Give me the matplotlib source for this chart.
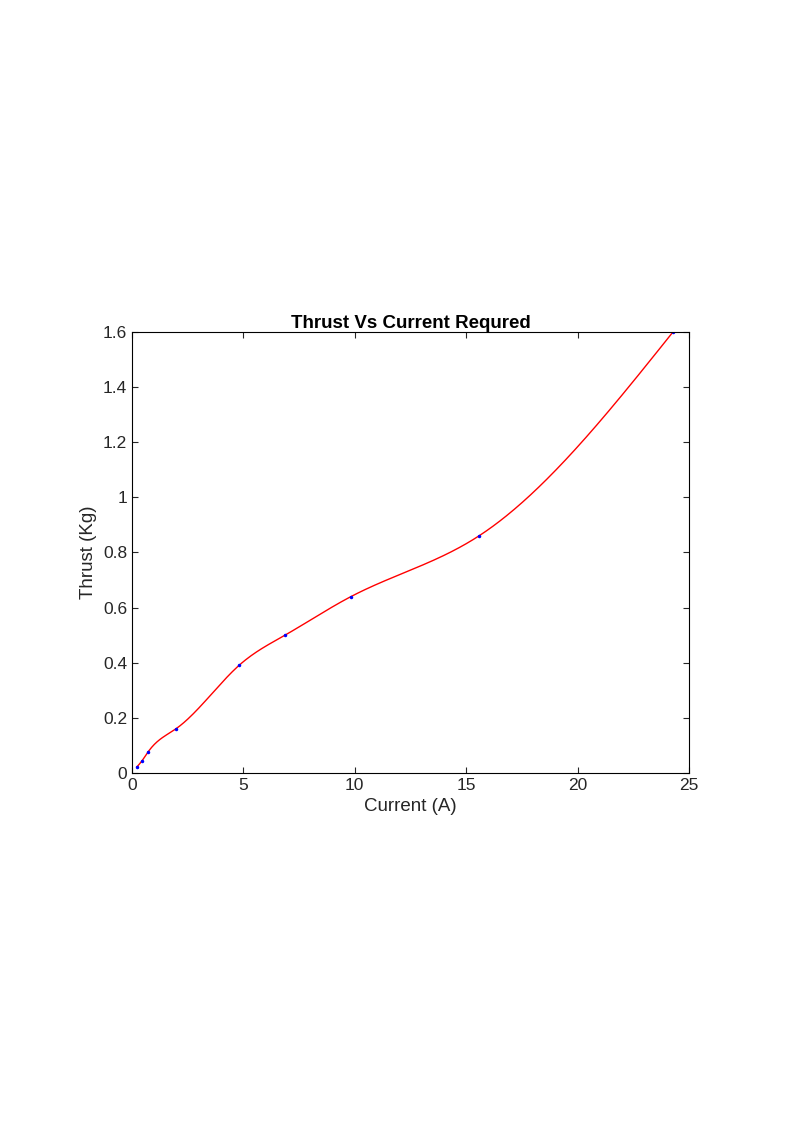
import numpy as np
import matplotlib
matplotlib.use('Agg')
import matplotlib.pyplot as plt

plt.rcParams['font.family'] = ['Liberation Sans', 'DejaVu Sans']

current = [0.22, 0.45, 0.72, 1.97, 4.8, 6.87, 9.83, 15.57, 24.28]
thrust = [0.022, 0.044, 0.076, 0.16, 0.39, 0.50, 0.64, 0.86, 1.60]


def natural_spline(x, y, xs):
    x = np.asarray(x, float); y = np.asarray(y, float)
    n = len(x)
    h = np.diff(x)
    A = np.zeros((n, n)); r = np.zeros(n)
    A[0, 0] = A[-1, -1] = 1
    for i in range(1, n - 1):
        A[i, i - 1] = h[i - 1]
        A[i, i] = 2 * (h[i - 1] + h[i])
        A[i, i + 1] = h[i]
        r[i] = 3 * ((y[i + 1] - y[i]) / h[i] - (y[i] - y[i - 1]) / h[i - 1])
    c = np.linalg.solve(A, r)
    b = (y[1:] - y[:-1]) / h - h * (2 * c[:-1] + c[1:]) / 3
    d = (c[1:] - c[:-1]) / (3 * h)
    idx = np.clip(np.searchsorted(x, xs) - 1, 0, n - 2)
    dx = xs - x[idx]
    return y[idx] + b[idx] * dx + c[idx] * dx**2 + d[idx] * dx**3


xs = np.linspace(current[0], current[-1], 400)
ys = natural_spline(current, thrust, xs)

fig = plt.figure(figsize=(7.94, 11.23), dpi=100)
ax = fig.add_axes([0.1662, 0.3117, 0.7016, 0.3927])
ax.plot(xs, ys, color='red', linewidth=1)
ax.plot(current, thrust, '.', color='blue', markersize=3)
ax.set_xlim(0, 25)
ax.set_ylim(0, 1.6)
ax.set_xticks([0, 5, 10, 15, 20, 25])
ax.set_yticks([0, 0.2, 0.4, 0.6, 0.8, 1, 1.2, 1.4, 1.6])
ax.set_yticklabels(['0', '0.2', '0.4', '0.6', '0.8', '1', '1.2', '1.4', '1.6'])
ax.tick_params(direction='in', top=True, right=True, labelsize=12.5, colors='#262626', length=4)
ax.set_xlabel('Current (A)', fontsize=13.5, color='#262626')
ax.set_ylabel('Thrust (Kg)', fontsize=13.5, color='#262626')
ax.set_title('Thrust Vs Current Requred', fontsize=13.5, fontweight='bold', pad=3)

fig.savefig('out.png', dpi=100)
